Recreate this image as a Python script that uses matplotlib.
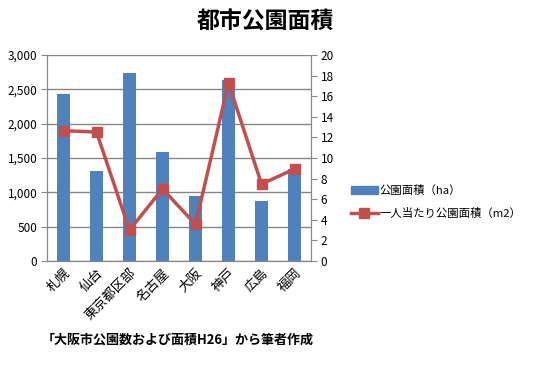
import matplotlib
matplotlib.use("Agg")
import matplotlib.pyplot as plt
from matplotlib.patches import Patch
from matplotlib.lines import Line2D

plt.rcParams['font.family'] = ['Noto Sans CJK JP', 'DejaVu Sans']

cities = ['札幌', '仙台', '東京都区部', '名古屋', '大阪', '神戸', '広島', '福岡']
park_area = [2432, 1311, 2738, 1587, 951, 2636, 874, 1340]
per_capita = [12.65, 12.52, 3.0, 6.99, 3.56, 17.3, 7.47, 8.93]

bar_color = '#4F81BD'
line_color = '#C0504D'
grid_color = '#868686'

fig = plt.figure(figsize=(5.33, 3.65), dpi=100)
ax = fig.add_axes([47/533, 1-261/365, (311-47)/533, (261-55)/365])
ax2 = ax.twinx()

x = list(range(len(cities)))
ax.bar(x, park_area, width=0.4, color=bar_color, zorder=2)
ax2.plot(x, per_capita, color=line_color, lw=2.5, marker='s', markersize=7,
         markerfacecolor=line_color, markeredgecolor=line_color, zorder=3)

ax.set_xlim(-0.5, len(cities) - 0.5)
ax.set_ylim(0, 3000)
ax.set_yticks(range(0, 3001, 500))
ax.set_yticklabels([f'{v:,}' for v in range(0, 3001, 500)])
ax2.set_ylim(0, 20)
ax2.set_yticks(range(0, 21, 2))

ax.yaxis.grid(True, color=grid_color, lw=1)
ax.set_axisbelow(True)
ax.set_xticks(x)
ax.set_xticklabels(cities, rotation=45, ha='right', rotation_mode='anchor', fontsize=9.5)
ax.tick_params(axis='x', length=0, pad=4)
ax.tick_params(axis='y', labelsize=8.5, color=grid_color, length=4, pad=3)
ax2.tick_params(axis='y', labelsize=8.5, color=grid_color, length=4, pad=3)

for a in (ax, ax2):
    a.spines['top'].set_visible(False)
    for s in ('left', 'right', 'bottom'):
        a.spines[s].set_color(grid_color)

fig.text(265/533, 1-22/365, '都市公園面積', ha='center', va='center',
         fontsize=16.5, fontweight='bold')
fig.text(178/533, 1-340/365, '「大阪市公園数および面積H26」から筆者作成', ha='center',
         va='center', fontsize=9.4, fontweight='bold')

handles = [Patch(color=bar_color),
           Line2D([0], [0], color=line_color, lw=2.5, marker='s', markersize=7)]
labels = ['公園面積（ha）', '一人当たり公園面積（m2）']
fig.legend(handles, labels, loc='center left', bbox_to_anchor=(346/533, 1-202/365),
           frameon=False, fontsize=8.2, handlelength=2.4, labelspacing=1.1,
           handletextpad=0.15, borderaxespad=0)

fig.savefig('out.png', dpi=100)
